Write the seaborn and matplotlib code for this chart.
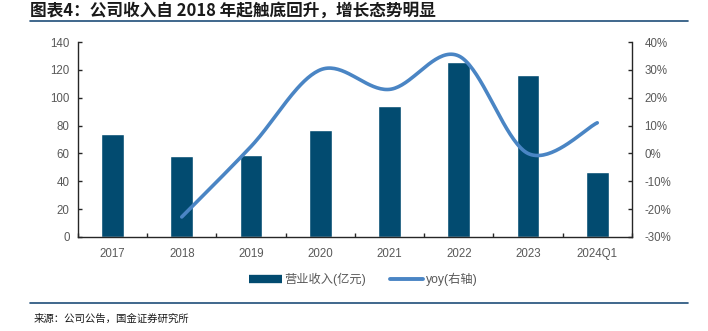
import numpy as np
import pandas as pd
import matplotlib
matplotlib.use("Agg")
import matplotlib.pyplot as plt
import seaborn as sns
from matplotlib.ticker import FuncFormatter, FixedLocator, MultipleLocator
from matplotlib.lines import Line2D

# ---- data ----
categories = ["2017", "2018", "2019", "2020", "2021", "2022", "2023", "2024Q1"]
revenue = [74, 58, 59, 77, 94, 126, 116, 47]             # 营业收入(亿元)
yoy_categories = ["2018", "2019", "2020", "2021", "2022", "2023", "2024Q1"]
yoy = [-22.8, 2.5, 30.0, 23.0, 35.0, 0.0, 11.0]           # yoy %

title = "图表4：公司收入自 2018 年起触底回升，增长态势明显"
source = "来源：公司公告，国金证券研究所"
bar_label = "营业收入(亿元)"
line_label = "yoy(右轴)"

BAR_C = "#024B70"
LINE_C = "#4A85C4"
TXT_C = "#595959"

sns.set_style("ticks")
plt.rcParams["font.family"] = ["Liberation Sans", "Noto Sans CJK SC"]

fig = plt.figure(figsize=(7.08, 3.31), dpi=100)
ax = fig.add_axes([0.110, 0.284, 0.7825, 0.589])

df = pd.DataFrame({"cat": categories, "rev": revenue})
sns.barplot(data=df, x="cat", y="rev", color=BAR_C, width=0.33,
            saturation=1, ax=ax, order=categories)
ax.set_xlim(-0.5, len(categories) - 0.5)
ax.set_ylim(0, 140)
ax.yaxis.set_major_locator(MultipleLocator(20))
ax.set_xlabel("")
ax.set_ylabel("")

# smoothed yoy line (Catmull-Rom through data points)
xs = np.array([categories.index(c) for c in yoy_categories], dtype=float)
ys = np.array(yoy, dtype=float)
pts = np.column_stack([xs, ys])
ext = np.vstack([pts[0], pts, pts[-1]])
sx, sy = [], []
for i in range(1, len(ext) - 2):
    p0, p1, p2, p3 = ext[i - 1], ext[i], ext[i + 1], ext[i + 2]
    t = np.linspace(0, 1, 40)[:, None]
    seg = 0.5 * ((2 * p1) + (-p0 + p2) * t + (2 * p0 - 5 * p1 + 4 * p2 - p3) * t ** 2
                 + (-p0 + 3 * p1 - 3 * p2 + p3) * t ** 3)
    sx.extend(seg[:, 0]); sy.extend(seg[:, 1])
line_df = pd.DataFrame({"x": sx, "y": sy})

ax2 = ax.twinx()
sns.lineplot(data=line_df, x="x", y="y", sort=False, color=LINE_C,
             linewidth=2.6, ax=ax2, solid_capstyle="round")
ax2.set_ylim(-30, 40)
ax2.yaxis.set_major_locator(MultipleLocator(10))
ax2.yaxis.set_major_formatter(FuncFormatter(lambda v, p: f"{v:.0f}%"))
ax2.set_xlabel("")
ax2.set_ylabel("")
ax2.set_xlim(-0.5, len(categories) - 0.5)

for a in (ax, ax2):
    a.spines["top"].set_visible(False)
    for s in ("left", "right", "bottom"):
        a.spines[s].set_color("#262626")
        a.spines[s].set_linewidth(1.0)
    a.grid(False)

ax.spines["right"].set_visible(False)
ax2.spines["left"].set_visible(False)
ax2.spines["bottom"].set_visible(False)

ax.tick_params(axis="y", direction="in", length=3, width=1, colors="#262626",
               labelcolor=TXT_C, labelsize=8.3, pad=6)
ax2.tick_params(axis="y", direction="in", length=3, width=1, colors="#262626",
                labelcolor=TXT_C, labelsize=8.3, pad=9)
ax.xaxis.set_minor_locator(FixedLocator(np.arange(-0.5, len(categories), 1.0)))
ax.tick_params(axis="x", which="major", length=0, labelcolor=TXT_C,
               labelsize=8.3, pad=8)
ax.tick_params(axis="x", which="minor", direction="in", length=3, width=1,
               color="#262626")

# legend
handles = [Line2D([0], [0], color=BAR_C, lw=6, solid_capstyle="butt"),
           Line2D([0], [0], color=LINE_C, lw=2.8)]
fig.legend(handles, [bar_label, line_label], loc="center",
           bbox_to_anchor=(0.513, 0.155), ncol=2, frameon=False,
           fontsize=8.8, labelcolor=TXT_C, handlelength=2.7,
           columnspacing=2.0, handletextpad=0.2)

# title, rules, source
fig.text(0.043, 0.968, title, fontsize=12, fontweight="bold", color="#1a1a1a",
         va="center", ha="left", family=["Noto Sans CJK SC", "DejaVu Sans"])
fig.add_artist(Line2D([0.042, 0.972], [0.938, 0.938], color="#1F4E79", lw=1.2,
                      transform=fig.transFigure))
fig.add_artist(Line2D([0.042, 0.972], [0.085, 0.085], color="#1F4E79", lw=1.2,
                      transform=fig.transFigure))
fig.text(0.048, 0.038, source, fontsize=7.5, color="#1a1a1a", va="center",
         ha="left", family=["Noto Sans CJK SC", "DejaVu Sans"])

fig.savefig("out.png", dpi=100)
